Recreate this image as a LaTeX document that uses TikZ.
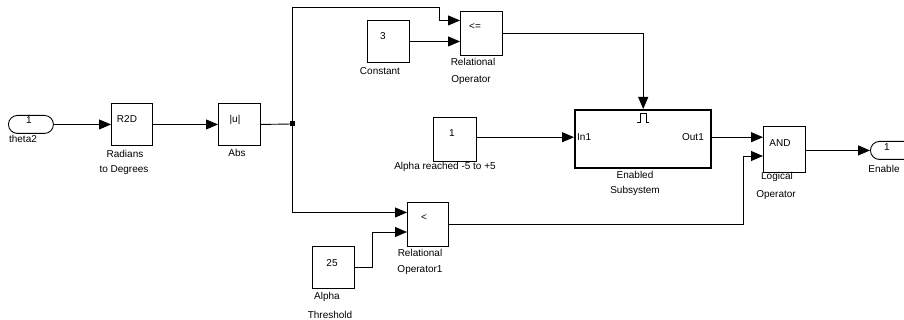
\documentclass[tikz,border=0pt]{standalone}
\usepackage{fontspec}
\setmainfont{Liberation Sans}
\usetikzlibrary{arrows.meta,calc}
\begin{document}
\begin{tikzpicture}[x=1pt,y=-1pt,
  blk/.style={draw,line width=0.9pt,inner sep=0pt,anchor=north west,minimum width=42pt,minimum height=43pt},
  portshape/.style={draw,line width=0.9pt,inner sep=0pt,anchor=north west,rounded corners=9pt,minimum width=45pt,minimum height=18pt},
  subsys/.style={draw,line width=2.4pt,inner sep=0pt,anchor=north west,minimum width=136pt,minimum height=58pt},
  txt/.style={font=\fontsize{10}{12}\selectfont,inner sep=0pt},
  wire/.style={line width=0.9pt},
  arr/.style={wire,-{Triangle[length=12pt,width=10pt]}}
]
\useasboundingbox (0,0) rectangle (904,320);

% ---------- blocks ----------
\node[portshape] (theta) at (8,115) {};
\node[blk,minimum width=41pt,minimum height=42pt] (r2d) at (111,103) {};
\node[blk,minimum width=42pt,minimum height=42pt] (abs) at (218,103) {};
\node[blk,minimum width=42pt,minimum height=42pt] (c3) at (367,20) {};
\node[blk,minimum width=42pt,minimum height=44pt] (relop) at (460,11) {};
\node[blk,minimum width=43pt,minimum height=44pt] (alpha) at (433,117) {};
\node[subsys] (sub) at (574,109) {};
\node[blk,minimum width=42pt,minimum height=46pt] (and) at (763,126) {};
\node[portshape] (enable) at (870,141) {};
\node[blk,minimum width=41pt,minimum height=44pt] (relop1) at (407,202) {};
\node[blk,minimum width=42pt,minimum height=42pt] (c25) at (312,246) {};

% ---------- texts ----------
\node[txt] (thetaN) at (29,120) {1};
\node[txt] (thetaL) at (23,139) {theta2};
\node[txt] (r2dT) at (127,119) {R2D};
\node[txt] (r2dL1) at (125,154) {Radians};
\node[txt] (r2dL2) at (124,170) {to Degrees};
\node[txt] (absT) at (235,120) {|u|};
\node[txt] (absL) at (237,153) {Abs};
\node[txt] (c3T) at (383,36) {3};
\node[txt] (c3L) at (380,71) {Constant};
\node[txt] (relopT) at (475,27) {<=};
\node[txt] (relopL1) at (473,62) {Relational};
\node[txt] (relopL2) at (471,80) {Operator};
\node[txt] (alphaT) at (452,133) {1};
\node[txt] (alphaL) at (445,167) {Alpha reached -5 to +5};
\node[txt,anchor=west] (subIn) at (577,137) {In1};
\node[txt,anchor=east] (subOut) at (704,137) {Out1};
\node[txt] (subL1) at (635,175) {Enabled};
\node[txt] (subL2) at (635,191) {Subsystem};
\node[txt] (andT) at (780,143) {AND};
\node[txt] (andL1) at (777,177) {Logical};
\node[txt] (andL2) at (776,195) {Operator};
\node[txt] (enableN) at (887,147) {1};
\node[txt] (enableL) at (884,169) {Enable};
\node[txt] (relop1T) at (424,218) {<};
\node[txt] (relop1L1) at (420,253) {Relational};
\node[txt] (relop1L2) at (420,270) {Operator1};
\node[txt] (c25T) at (332,263) {25};
\node[txt] (c25L1) at (327,297) {Alpha};
\node[txt] (c25L2) at (330,315) {Threshold};

% enable symbol
\draw[wire] (sub.north) ++(-6,13) -- ++(3,0) -- ++(0,-9) -- ++(6,0) -- ++(0,9) -- ++(3,0);

% ---------- coordinates ----------
\coordinate (jn) at (292,124);
\coordinate (topR) at (439,7);
\coordinate (b25) at (372,232);
\coordinate (bAnd) at (743,156);
\coordinate (subInP) at ([yshift=2pt]sub.west);
\coordinate (subOutP) at ([yshift=2pt]sub.east);

% ---------- connectors ----------
\draw[arr] (theta.east) -- (r2d.west);
\draw[arr] (r2d.east) -- (abs.west);
\draw[wire] (abs.east) -- (jn);
\fill (jn) +(-2.5,-2.5) rectangle +(2.5,2.5);
\draw[arr] (jn) |- (topR) |- ([yshift=13pt]relop.west);
\draw[arr] (c3.east) -- (relop.west |- c3.east);
\draw[arr] (relop.east) -| (sub.north);
\draw[arr] (alpha.east |- subInP) -- (subInP);
\draw[arr] (subOutP) -- (and.west |- subOutP);
\draw[arr] (jn) |- ([yshift=12pt]relop1.west);
\draw[arr] (c25.east) -| (b25) -- (relop1.west |- b25);
\draw[arr] (relop1.east) -| (bAnd) -- (and.west |- bAnd);
\draw[arr] (and.east |- enable.west) -- (enable.west);
\end{tikzpicture}
\end{document}
